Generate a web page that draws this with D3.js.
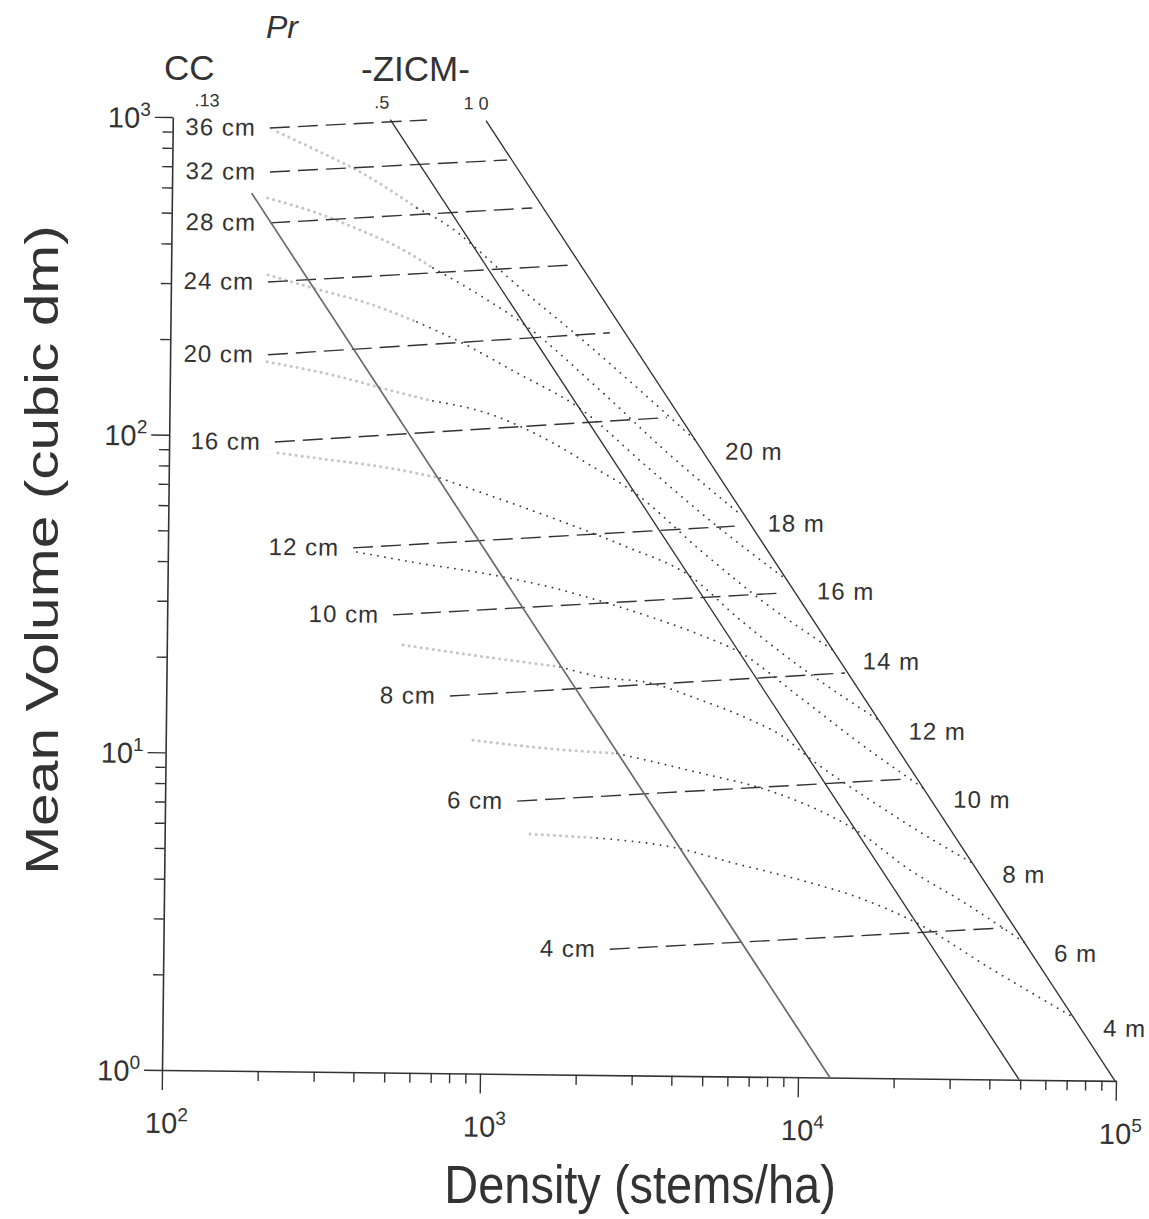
<!DOCTYPE html>
<html>
<head>
<meta charset="utf-8">
<script src="https://cdn.jsdelivr.net/npm/d3@7"></script>
<style>
  body { margin: 0; background: #fff; }
  svg { display: block; }
  text { font-family: "Liberation Sans", Arial, Helvetica, sans-serif; fill: #333; }
</style>
</head>
<body>
<svg id="chart" width="1149" height="1219"></svg>
<script>
// ---- data (density in stems/ha, mean volume in cubic dm) ----
const densityDomain = [100, 100000];
const volumeDomain = [1, 1000];

// relative density lines: [top point, bottom point]
const rdLabels = [".13", ".5", "1 0"];
const rdLabelDensity = [128, 454, 897];
const rdLines = [
    [[178, 580], [12600, 1]],
    [[483, 1000], [49600, 1]],
    [[966, 1000], [99300, 1]]
];

// quadratic mean diameter lines (dashed): [start, end]
const diameterLabels = ["36 cm", "32 cm", "28 cm", "24 cm", "20 cm", "16 cm",
                        "12 cm", "10 cm", "8 cm", "6 cm", "4 cm"];
const diameterLines = [
    [[202, 931], [630, 1000]],
    [[203, 677], [1129, 753]],
    [[204, 468], [1359, 533]],
    [[202, 305], [1862, 354]],
    [[203, 180], [2410, 217]],
    [[215, 95.7], [3673, 118]],
    [[382, 44.7], [6050, 54]],
    [[513, 27.6], [8630, 33.4]],
    [[780, 15.4], [13600, 18.8]],
    [[1280, 7.23], [21700, 8.77]],
    [[2535, 2.49], [43600, 3.0]]
];

// dominant height curves (dotted): faint left part, then main part
const heightLabels = ["20 m", "18 m", "16 m", "14 m", "12 m", "10 m", "8 m", "6 m", "4 m"];
const heightFaint = [
    [[214, 905], [291, 786], [390, 682], [590, 528]],
    [[200, 560], [286, 505], [391, 448], [524, 394], [666, 342]],
    [[202, 321], [294, 289], [414, 264], [596, 231]],
    [[202, 171], [326, 156], [530, 138], [673, 130.5]],
    [[220, 88.4], [321, 84.4], [472, 80.5], [713, 74.7]],
    [],
    [[553, 22.2], [967, 20.6], [1726, 19.2]],
    [[925, 11.2], [1829, 10.5], [2627, 10.3]],
    [[1409, 5.70], [2289, 5.57]]
];
const heightCurves = [
    [[590, 528], [790, 445], [885, 405], [1226, 304], [1985, 205], [4513, 100.4]],
    [[666, 342], [959, 278], [1302, 228], [2255, 143], [3763, 89.9], [6170, 59.8]],
    [[596, 231], [797, 203], [1235, 161], [1944, 125.5], [3142, 83.5], [5129, 55.5], [8868, 36.7]],
    [[673, 130.5], [997, 120], [1611, 97.2], [2110, 83.1], [2930, 68.1], [4713, 45.3], [7580, 31], [12430, 22.2]],
    [[713, 74.7], [975, 67.2], [1586, 56.8], [2778, 46], [4352, 37.7], [6333, 27.4], [10180, 19.1], [17420, 13.4]],
    [[393, 43.4], [608, 40.3], [981, 37.6], [1595, 34.2], [2413, 30.6], [3300, 27.8], [4747, 24.5],
     [6306, 21.7], [9842, 15.7], [15250, 11.3], [24200, 8.21]],
    [[1726, 19.2], [2308, 17.9], [3318, 17.2], [4771, 15.3], [6864, 13.3], [8727, 11.8], [10470, 10.2],
     [16480, 7.5], [23730, 5.97], [34740, 4.79]],
    [[2627, 10.3], [4800, 9.0], [7808, 8.0], [12620, 6.6], [14890, 6.03], [22130, 4.53], [31870, 3.66], [50860, 2.71]],
    [[2289, 5.57], [4089, 5.21], [6142, 4.70], [9986, 4.18], [15450, 3.68], [23320, 3.09], [39810, 2.24], [73030, 1.58]]
];

// ---- drawing ----
const tilt = 0.65; // the scanned original sits slightly rotated

const svg = d3.select("#chart");
svg.append("rect").attr("width", 1149).attr("height", 1219).attr("fill", "#fff");

const x = d3.scaleLog().domain(densityDomain).range([162, 1116]);
const y = d3.scaleLog().domain(volumeDomain).range([1070, 117]);

const isMajor = v => Math.abs(Math.log10(v) - Math.round(Math.log10(v))) < 1e-9;

const plot = svg.append("g")
    .attr("transform", `rotate(${tilt},${x(densityDomain[0])},${y(volumeDomain[0])})`);

// x axis
const gx = plot.append("g")
    .attr("transform", `translate(0,${y(volumeDomain[0])})`)
    .call(d3.axisBottom(x).tickValues(x.ticks()).tickFormat("").tickSizeOuter(0));
gx.selectAll(".tick line").attr("y2", d => isMajor(d) ? 20 : 10);

// y axis
const gy = plot.append("g")
    .attr("transform", `translate(${x(densityDomain[0])},0)`)
    .call(d3.axisLeft(y).tickValues(y.ticks()).tickFormat("").tickSizeOuter(0));
gy.selectAll(".tick line").attr("x2", d => isMajor(d) ? -18 : -10);

plot.selectAll(".domain").attr("stroke", "#333").attr("stroke-width", 1.6);
plot.selectAll(".tick line").attr("stroke", "#333").attr("stroke-width", 1.4);

// tick labels 10^n
x.ticks().filter(isMajor).forEach(v => {
    const t = plot.append("text")
        .attr("x", x(v) + 5)
        .attr("y", y(volumeDomain[0]) + 63)
        .attr("text-anchor", "middle")
        .attr("font-size", 29)
        .attr("fill", "#4a4a4a");
    t.append("tspan").text("10");
    t.append("tspan").attr("dy", -12).attr("font-size", 19).text(Math.round(Math.log10(v)));
});
y.ticks().filter(isMajor).forEach(v => {
    const t = plot.append("text")
        .attr("x", x(densityDomain[0]) - 22)
        .attr("y", y(v) + 11)
        .attr("text-anchor", "end")
        .attr("font-size", 29)
        .attr("fill", "#4a4a4a");
    t.append("tspan").text("10");
    t.append("tspan").attr("dy", -12).attr("font-size", 19).text(Math.round(Math.log10(v)));
});

const straight = d3.line().x(d => x(d[0])).y(d => y(d[1]));
const smooth = d3.line().x(d => x(d[0])).y(d => y(d[1])).curve(d3.curveMonotoneX);

// height curves
plot.append("g").selectAll("path")
    .data(heightFaint.filter(d => d.length))
    .join("path")
    .attr("d", smooth)
    .attr("fill", "none")
    .attr("stroke", "#c6c6c6")
    .attr("stroke-width", 3)
    .attr("stroke-linecap", "round")
    .attr("stroke-dasharray", "0.1 6");

plot.append("g").selectAll("path")
    .data(heightCurves)
    .join("path")
    .attr("d", smooth)
    .attr("fill", "none")
    .attr("stroke", "#3a3a3a")
    .attr("stroke-width", 1.8)
    .attr("stroke-linecap", "round")
    .attr("stroke-dasharray", "0.1 7");

plot.append("g").selectAll("text")
    .data(heightCurves)
    .join("text")
    .attr("x", d => x(d[d.length - 1][0]) + 30)
    .attr("y", d => y(d[d.length - 1][1]) + 19)
    .attr("font-size", 24)
    .attr("letter-spacing", 1)
    .text((d, i) => heightLabels[i]);

// diameter lines
plot.append("g").selectAll("path")
    .data(diameterLines)
    .join("path")
    .attr("d", straight)
    .attr("fill", "none")
    .attr("stroke", "#333")
    .attr("stroke-width", 1.4)
    .attr("stroke-dasharray", "20 8");

plot.append("g").selectAll("text")
    .data(diameterLines)
    .join("text")
    .attr("x", d => x(d[0][0]) - 14)
    .attr("y", d => y(d[0][1]) + 8)
    .attr("text-anchor", "end")
    .attr("font-size", 24)
    .attr("letter-spacing", 1)
    .text((d, i) => diameterLabels[i]);

// relative density lines
plot.append("g").selectAll("path")
    .data(rdLines)
    .join("path")
    .attr("d", straight)
    .attr("fill", "none")
    .attr("stroke", (d, i) => i === 0 ? "#6a6a6a" : "#2e2e2e")
    .attr("stroke-width", (d, i) => i === 0 ? 1.7 : 1.3);

plot.append("g").selectAll("text")
    .data(rdLabels)
    .join("text")
    .attr("x", (d, i) => x(rdLabelDensity[i]))
    .attr("y", y(volumeDomain[1]) - 11)
    .attr("text-anchor", "middle")
    .attr("font-size", 18)
    .text(d => d);

// headings above the plot
svg.append("text").attr("x", 266).attr("y", 38)
    .attr("font-size", 32).attr("font-style", "italic").text("Pr");
svg.append("text").attr("x", 164).attr("y", 80)
    .attr("font-size", 35).text("CC");
svg.append("text").attr("x", 361).attr("y", 81)
    .attr("font-size", 35).text("-ZICM-");

// axis titles
svg.append("text")
    .attr("transform", "translate(640,1203) scale(1,1.15)")
    .attr("text-anchor", "middle")
    .attr("font-size", 47)
    .attr("fill", "#3a3a3a")
    .text("Density (stems/ha)");

svg.append("text")
    .attr("transform", "translate(58,550) scale(1,1.25) rotate(-90)")
    .attr("text-anchor", "middle")
    .attr("font-size", 47)
    .attr("fill", "#3a3a3a")
    .text("Mean Volume (cubic dm)");
</script>
</body>
</html>
